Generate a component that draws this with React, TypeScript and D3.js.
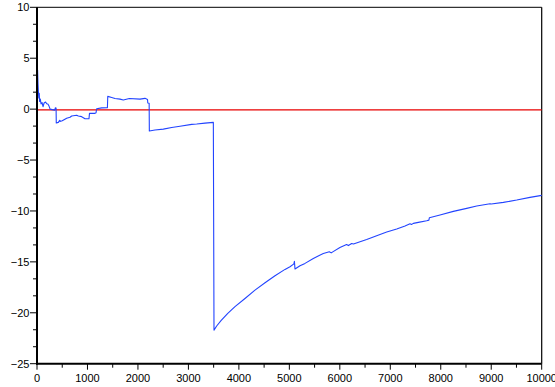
import React from "react";
import * as d3 from "d3";

const W = 555;
const H = 387;

const xTicks = [0, 1000, 2000, 3000, 4000, 5000, 6000, 7000, 8000, 9000, 10000];
const yTicks = [10, 5, 0, -5, -10, -15, -20, -25];

const seriesX = [
  12, 20, 28, 36, 44, 52, 65, 80, 100, 120, 140, 170, 192, 215, 238, 260, 300, 350, 365, 378,
  382, 423, 450, 470, 500, 588, 654, 687, 786, 819, 885, 951, 1030, 1040, 1149, 1170, 1182,
  1281, 1395, 1402, 1480, 1545, 1645, 1710, 1829, 2041, 2140, 2190, 2195, 2222, 2226, 2338,
  2503, 2669, 2833, 3065, 3164, 3329, 3494, 3507, 3560, 3650, 3780, 3923, 4121, 4319, 4518,
  4716, 4914, 5013, 5090, 5100, 5112, 5211, 5310, 5475, 5673, 5792, 5830, 5860, 6002, 6134,
  6170, 6235, 6270, 6532, 6730, 6929, 7127, 7292, 7391, 7420, 7457, 7556, 7721, 7765, 7774,
  7985, 8249, 8514, 8712, 8976, 9000, 9240, 9505, 9768, 10000,
];
const seriesY = [
  3.84, 2.5, 1.7, 1.1, 1.55, 0.75, 1.0, 0.5, 0.65, 0.24, 0.6, 0.7, 0.52, 0.5, 0.3, 0.0, -0.05,
  -0.1, 0.14, 0.12, -1.35, -1.3, -1.1, -1.2, -1.15, -0.9, -0.8, -0.67, -0.6, -0.68, -0.74,
  -0.94, -0.94, -0.42, -0.42, -0.35, 0.04, 0.12, 0.14, 1.25, 1.15, 1.05, 0.98, 0.9, 1.05, 0.98,
  1.06, 0.95, 0.6, 0.57, -2.15, -2.05, -1.96, -1.8, -1.68, -1.5, -1.46, -1.37, -1.3, -21.7,
  -21.3, -20.75, -20.05, -19.4, -18.6, -17.77, -17.05, -16.36, -15.74, -15.48, -15.2, -14.95,
  -15.7, -15.38, -15.15, -14.66, -14.17, -14.0, -14.12, -14.02, -13.58, -13.3, -13.4, -13.2,
  -13.25, -12.8, -12.43, -12.07, -11.78, -11.48, -11.26, -11.32, -11.22, -11.12, -10.96, -10.9,
  -10.67, -10.4, -10.04, -9.75, -9.52, -9.29, -9.32, -9.16, -8.93, -8.67, -8.47,
];
const refLineY = 0;

const margin = { left: 37, right: W - 541.7, top: 7.3, bottom: H - 363.7 };

export default function App() {
  const x = d3.scaleLinear().domain([0, 10000]).range([margin.left, W - margin.right]);
  const y = d3.scaleLinear().domain([-25, 10]).range([H - margin.bottom, margin.top]);
  const pts: [number, number][] = seriesX.map((v, i) => [v, seriesY[i]]);
  const line = d3
    .line<[number, number]>()
    .x((d) => x(d[0]))
    .y((d) => y(d[1]));
  const xMinor = d3.range(500, 10000, 1000);
  const yMinor = d3.range(-25, 10, 5 / 3).filter((v) => Math.abs(v / 5 - Math.round(v / 5)) > 1e-6);
  const font = "'Liberation Sans', Arial, Helvetica, sans-serif";
  const x0 = x(0), x1 = x(10000), y0 = y(-25), y1 = y(10);
  const yz = Math.floor(y(refLineY)) + 0.9;
  return (
    <svg
      width={W}
      height={H}
      style={{ position: "absolute", left: 0, top: 0, background: "#fff" }}
      fontFamily={font}
      fontSize={11}
    >
      <rect x={0} y={0} width={W} height={H} fill="#fff" />
      {/* frame */}
      <line x1={x0} x2={x1} y1={y1} y2={y1} stroke="#000" strokeWidth={1} />
      <line x1={x1} x2={x1} y1={y1} y2={y0} stroke="#000" strokeWidth={1.2} />
      {/* reference zero line */}
      <line x1={x0} x2={x1} y1={yz} y2={yz} stroke="#e80000" strokeWidth={1.3} />
      {/* data */}
      <path d={line(pts) || ""} fill="none" stroke="#2244ff" strokeWidth={1.1} strokeLinejoin="round" />
      {/* axes */}
      <line x1={x0} x2={x0} y1={y1} y2={y0 + 1} stroke="#000" strokeWidth={2} />
      <line x1={x0 - 1} x2={x1} y1={y0} y2={y0} stroke="#000" strokeWidth={2} />
      {yTicks.map((t) => (
        <g key={"yt" + t}>
          <line x1={x0 - 7} x2={x0} y1={y(t)} y2={y(t)} stroke="#000" strokeWidth={1} />
          <text x={29.5} y={y(t)} dy="0.35em" textAnchor="end" fill="#000">
            {t < 0 ? "\u2212" + Math.abs(t) : String(t)}
          </text>
        </g>
      ))}
      {yMinor.map((t, i) => (
        <line key={"ym" + i} x1={x0 - 4} x2={x0} y1={y(t)} y2={y(t)} stroke="#000" strokeWidth={1} />
      ))}
      {xTicks.map((t) => (
        <g key={"xt" + t}>
          <line x1={x(t)} x2={x(t)} y1={y0} y2={y0 + 6} stroke="#000" strokeWidth={1} />
          <text x={x(t)} y={382} textAnchor="middle" fill="#000">
            {String(t)}
          </text>
        </g>
      ))}
      {xMinor.map((t) => (
        <line key={"xm" + t} x1={x(t)} x2={x(t)} y1={y0} y2={y0 + 4} stroke="#000" strokeWidth={1} />
      ))}
    </svg>
  );
}
